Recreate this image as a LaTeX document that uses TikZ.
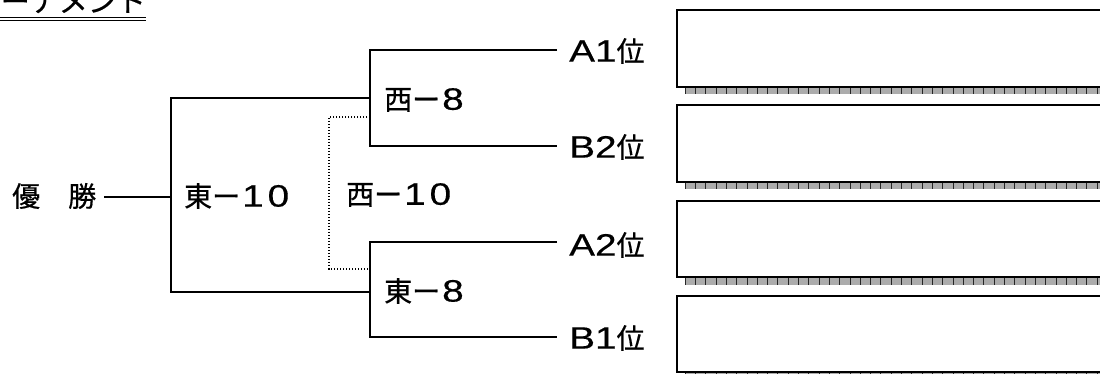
\documentclass[tikz,border=0pt]{standalone}
\usepackage{fontspec}
\newfontfamily\jp[FakeBold=0.6]{Noto Sans CJK JP}
\newfontfamily\lat[FakeStretch=1.25,FakeBold=0.4]{Liberation Sans}
\newcommand\cj{\jp\fontsize{28}{28}\selectfont}
\newcommand\la{\lat\fontsize{31}{31}\selectfont}
\newcommand\dg[1]{\makebox[25.5pt]{\la #1}}
\begin{document}
\begin{tikzpicture}[x=1pt,y=-1pt,
  lbl/.style={anchor=west,inner sep=0pt,font=\cj},
  bline/.style={line width=1.6pt,black},
  dline/.style={line width=1.2pt,dash pattern=on 1.2pt off 1.8pt,black},
  slot/.style={draw=black,line width=2.5pt,fill=white},
  slotshade/.style={fill=gray!65}]
\useasboundingbox (0,0) rectangle (1100,374);
\fill[white] (0,0) rectangle (1100,374);
% title
\node[anchor=base east,inner sep=0pt,font=\jp\fontsize{29}{29}\selectfont] (title) at (146,12) {ーナメント};
\draw[line width=1.3pt] (0,17.5) -- (146,17.5);
\draw[line width=1.3pt] (0,20.8) -- (146,20.8);
% labels
\node[lbl] (yusho) at (12,196) {優　勝};
\node[lbl] (e10) at (184,196) {東ー\dg{1}\dg{0}};
\node[lbl] (w10) at (346,195) {西ー\dg{1}\dg{0}};
\node[lbl] (w8) at (384,100) {西ー\dg{8}};
\node[lbl] (e8) at (384,291) {東ー\dg{8}};
\node[lbl] (a1) at (569,51) {{\la A1}位};
\node[lbl] (b2) at (569,147) {{\la B2}位};
\node[lbl] (a2) at (569,245) {{\la A2}位};
\node[lbl] (b1) at (569,338) {{\la B1}位};
% junction coordinates
\coordinate (ys) at (104,197);
\coordinate (fin) at (171,197);
\coordinate (finT) at (171,98);
\coordinate (finB) at (171,292);
\coordinate (sfT) at (370,98);
\coordinate (sfB) at (370,292);
\coordinate (uT) at (370,50);
\coordinate (uB) at (370,146);
\coordinate (lT) at (370,242);
\coordinate (lB) at (370,337);
\coordinate (a1e) at (557,50);
\coordinate (b2e) at (557,146);
\coordinate (a2e) at (557,242);
\coordinate (b1e) at (557,337);
\coordinate (dT) at (329,117);
\coordinate (dB) at (329,269);
\coordinate (dTr) at (370,117);
\coordinate (dBr) at (370,269);
% bracket lines
\draw[bline] (ys) -- (fin);
\draw[bline] (sfT) -- (finT) -- (finB) -- (sfB);
\draw[bline] (a1e) -- (uT) -- (uB) -- (b2e);
\draw[bline] (a2e) -- (lT) -- (lB) -- (b1e);
\draw[dline] (dTr) -- (dT) -- (dB) -- (dBr);
% entry slots with shadow strips
\foreach \t/\b in {10/87,105/182,201/277,296/372}{
  \fill[slotshade] (685,\b+1.2) rectangle (1110,\b+7.5);
  \foreach \k in {0,...,42}{
    \draw[gray!30!black,line width=0.5pt] (685+10.3*\k,\b+1.2) -- (685+10.3*\k,\b+7.5);
  }
  \draw[slot] (677,\t) rectangle (1110,\b);
}
\end{tikzpicture}
\end{document}
